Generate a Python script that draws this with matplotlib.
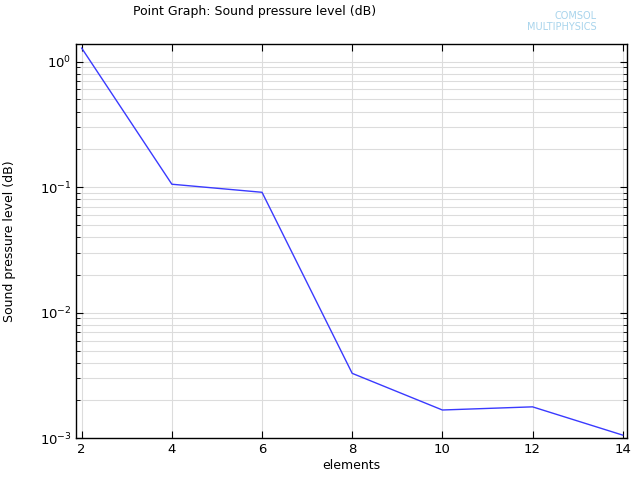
import matplotlib
matplotlib.use("Agg")
import matplotlib.pyplot as plt
from matplotlib.ticker import LogLocator, NullFormatter, FixedLocator

elements = [2, 4, 6, 8, 10, 12, 14]
spl = [1.28, 0.1055, 0.091, 0.00329, 0.00168, 0.00178, 0.00106]

plt.rcParams['font.family'] = ['DejaVu Sans']
fig = plt.figure(figsize=(6.4, 4.8), dpi=100)
ax = fig.add_axes([0.1192, 0.0869, 0.98 - 0.1192, 0.9083 - 0.0869])

ax.plot(elements, spl, color='#3a3aff', lw=1.0)
ax.set_yscale('log')
ax.set_xlim(1.88, 14.1)
ax.set_ylim(1e-3, 1.38)
ax.xaxis.set_major_locator(FixedLocator([2, 4, 6, 8, 10, 12, 14]))
ax.yaxis.set_major_locator(LogLocator(base=10, numticks=10))
ax.yaxis.set_minor_locator(LogLocator(base=10, subs=range(2, 10), numticks=10))
ax.yaxis.set_minor_formatter(NullFormatter())
ax.grid(True, which='major', color='#dcdcdc', lw=0.8)
ax.grid(True, which='minor', axis='y', color='#dcdcdc', lw=0.8)
ax.set_axisbelow(True)
ax.tick_params(which='both', direction='in', top=True, right=True, labelsize=9.5, colors='black')
ax.tick_params(which='major', length=5)
ax.tick_params(which='minor', length=3)
for s in ax.spines.values():
    s.set_linewidth(1.0)

ax.set_xlabel('elements', fontsize=9, labelpad=2)
ax.set_ylabel('Sound pressure level (dB)', fontsize=9)
ax.yaxis.set_label_coords(-0.11, 0.5)
fig.text(133/640, 1 - 12/480, 'Point Graph: Sound pressure level (dB)', fontsize=9, ha='left', va='center')
fig.text(597/640, 1 - 16/480, 'COMSOL', fontsize=7, color='#a8d4ec', ha='right', va='center')
fig.text(597/640, 1 - 27/480, 'MULTIPHYSICS', fontsize=7, color='#a8d4ec', ha='right', va='center')
fig.savefig('out.png', dpi=100)
